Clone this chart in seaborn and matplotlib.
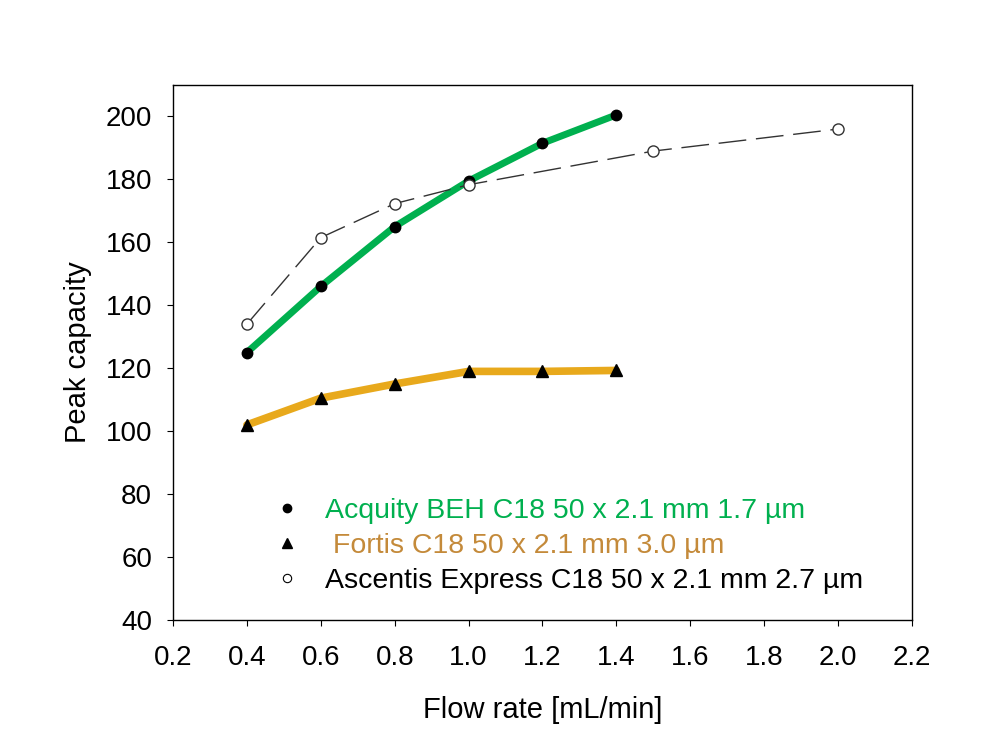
import matplotlib
matplotlib.use("Agg")
import matplotlib.pyplot as plt
from matplotlib.lines import Line2D
import seaborn as sns
import pandas as pd

# Data
acquity_flow = [0.4, 0.6, 0.8, 1.0, 1.2, 1.4]
acquity_pc = [125, 146, 165, 179.5, 191.5, 200.5]
fortis_flow = [0.4, 0.6, 0.8, 1.0, 1.2, 1.4]
fortis_pc = [102, 110.5, 115, 119, 119, 119.3]
ascentis_flow = [0.4, 0.6, 0.8, 1.0, 1.5, 2.0]
ascentis_pc = [134, 161.5, 172.3, 178.3, 189, 196]

labels = ["Acquity BEH C18 50 x 2.1 mm 1.7 µm",
          " Fortis C18 50 x 2.1 mm 3.0 µm",
          "Ascentis Express C18 50 x 2.1 mm 2.7 µm"]
x_ticks = [0.2, 0.4, 0.6, 0.8, 1.0, 1.2, 1.4, 1.6, 1.8, 2.0, 2.2]
y_ticks = [40, 60, 80, 100, 120, 140, 160, 180, 200]

green = "#00b04f"
gold = "#e8a91c"
label_gold = "#c48a3a"

sns.set_style("white")
plt.rcParams["font.family"] = ["Liberation Sans", "DejaVu Sans"]

fig = plt.figure(figsize=(10, 7.5), dpi=100)
ax = fig.add_axes([0.173, 0.1733, 0.739, 0.7134])

acq = pd.DataFrame({"flow": acquity_flow, "pc": acquity_pc})
fort = pd.DataFrame({"flow": fortis_flow, "pc": fortis_pc})
asc = pd.DataFrame({"flow": ascentis_flow, "pc": ascentis_pc})

sns.lineplot(data=fort, x="flow", y="pc", ax=ax, color=gold, linewidth=5.5)
sns.lineplot(data=acq, x="flow", y="pc", ax=ax, color=green, linewidth=5)
sns.lineplot(data=asc, x="flow", y="pc", ax=ax, color="#333333", linewidth=1)
ax.lines[-1].set_dashes((20, 7))
ax.plot(fortis_flow, fortis_pc, linestyle="none", marker="^", markersize=9,
        color="black")
ax.plot(acquity_flow, acquity_pc, linestyle="none", marker="o", markersize=7.5,
        color="black")
ax.plot(ascentis_flow, ascentis_pc, linestyle="none", marker="o", markersize=8,
        markerfacecolor="white", markeredgecolor="#333333", markeredgewidth=1)

ax.set_xlim(0.2, 2.2)
ax.set_ylim(40, 210)
ax.set_xticks(x_ticks)
ax.set_xticklabels([f"{v:.1f}" for v in x_ticks])
ax.set_yticks(y_ticks)
ax.tick_params(labelsize=20, direction="out", length=4, color="black",
               labelcolor="black", bottom=True, left=True)
ax.tick_params(axis="x", pad=14)
ax.tick_params(axis="y", pad=11)
ax.set_xlabel("Flow rate [mL/min]", fontsize=21, labelpad=18, color="black")
ax.set_ylabel("Peak capacity", fontsize=21, labelpad=10, color="black")
for sp in ax.spines.values():
    sp.set_color("black")
    sp.set_linewidth(1)

handles = [
    Line2D([], [], linestyle="none", marker="o", markersize=6, color="black"),
    Line2D([], [], linestyle="none", marker="^", markersize=7, color="black"),
    Line2D([], [], linestyle="none", marker="o", markersize=6,
           markerfacecolor="white", markeredgecolor="black", markeredgewidth=0.8),
]
leg = ax.legend(handles, labels, loc="lower left", bbox_to_anchor=(0.096, 0.0),
                frameon=False, fontsize=20.5, handletextpad=0.75, labelspacing=0.33,
                handlelength=1.2)
for txt, c in zip(leg.get_texts(), [green, label_gold, "black"]):
    txt.set_color(c)

fig.savefig("out.png", dpi=100)
